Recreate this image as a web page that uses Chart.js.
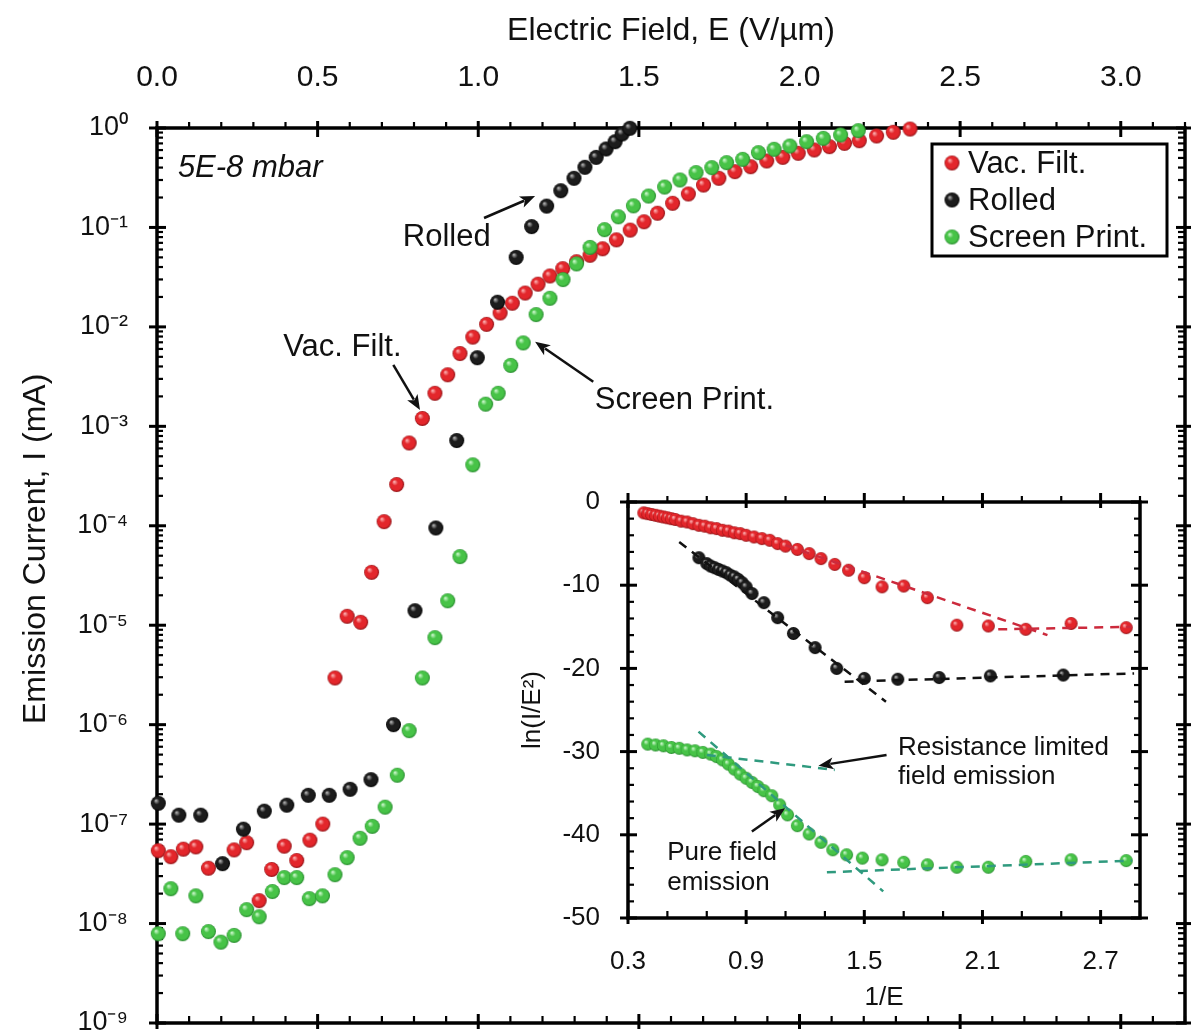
<!DOCTYPE html>
<html>
<head>
<meta charset="utf-8">
<script src="https://cdn.jsdelivr.net/npm/chart.js@4.4.1/dist/chart.umd.min.js"></script>
<style>
  html, body { margin: 0; padding: 0; background: #fff; }
  #wrap { position: relative; width: 1191px; height: 1035px; overflow: hidden; }
  #main { position: absolute; left: 0; top: 0; }
  #inset { position: absolute; left: 500px; top: 478px; }
</style>
</head>
<body>
<div id="wrap">
  <canvas id="main" width="1191" height="1035"></canvas>
  <canvas id="inset" width="680" height="540"></canvas>
</div>
<script>
// main plot: emission current (mA) vs electric field (V/um)
const vacE = [0.004, 0.043, 0.082, 0.121, 0.160, 0.240, 0.279, 0.318, 0.357, 0.396, 0.435, 0.476, 0.516,
  0.554, 0.592, 0.634, 0.668, 0.707, 0.746, 0.785, 0.826, 0.865, 0.905, 0.943, 0.983, 1.026, 1.068, 1.106,
  1.146, 1.186, 1.223, 1.263, 1.306, 1.348, 1.387, 1.430, 1.473, 1.516, 1.558, 1.605, 1.654, 1.701, 1.749,
  1.799, 1.848, 1.898, 1.948, 1.996, 2.046, 2.093, 2.140, 2.186, 2.240, 2.292, 2.344];
const vacI = [5.4e-8, 4.7e-8, 5.6e-8, 5.9e-8, 3.6e-8, 5.5e-8, 6.5e-8, 1.7e-8, 3.5e-8, 6.0e-8, 4.3e-8, 6.9e-8, 1.0e-7,
  2.95e-6, 1.23e-5, 1.07e-5, 3.4e-5, 1.1e-4, 2.6e-4, 6.8e-4, 1.2e-3, 2.15e-3, 3.3e-3, 5.4e-3, 7.9e-3, 1.06e-2, 1.38e-2, 1.73e-2,
  2.19e-2, 2.69e-2, 3.25e-2, 3.85e-2, 4.52e-2, 5.25e-2, 6.1e-2, 7.5e-2, 9.4e-2, 0.114, 0.139, 0.175, 0.217, 0.267, 0.312,
  0.364, 0.408, 0.466, 0.507, 0.557, 0.601, 0.649, 0.701, 0.745, 0.832, 0.906, 0.977];

const rolledE = [0.004, 0.068, 0.136, 0.204, 0.269, 0.334, 0.404, 0.471, 0.536, 0.601, 0.666, 0.736, 0.803, 0.868,
  0.933, 0.997, 1.060, 1.118, 1.166, 1.213, 1.257, 1.298, 1.332, 1.367, 1.398, 1.426, 1.448, 1.472];
const rolledI = [1.62e-7, 1.23e-7, 1.23e-7, 4.0e-8, 8.9e-8, 1.35e-7, 1.55e-7, 1.95e-7, 1.95e-7, 2.24e-7, 2.8e-7, 1.0e-6, 1.4e-5, 9.5e-5,
  7.2e-4, 4.9e-3, 1.77e-2, 5.0e-2, 0.102, 0.164, 0.234, 0.312, 0.403, 0.507, 0.615, 0.728, 0.871, 0.993];

const screenE = [0.004, 0.043, 0.080, 0.121, 0.160, 0.199, 0.240, 0.279, 0.318, 0.359, 0.396, 0.435, 0.474, 0.515,
  0.554, 0.592, 0.632, 0.670, 0.710, 0.748, 0.785, 0.826, 0.865, 0.905, 0.943, 0.983, 1.023, 1.062, 1.101, 1.140,
  1.180, 1.223, 1.264, 1.306, 1.348, 1.393, 1.436, 1.483, 1.530, 1.580, 1.628, 1.678, 1.727, 1.773, 1.823, 1.872,
  1.921, 1.970, 2.022, 2.074, 2.128, 2.183];
const screenI = [7.9e-9, 2.24e-8, 7.9e-9, 1.9e-8, 8.3e-9, 6.5e-9, 7.6e-9, 1.38e-8, 1.17e-8, 2.1e-8, 2.9e-8, 2.9e-8, 1.78e-8, 1.9e-8,
  3.1e-8, 4.6e-8, 7.2e-8, 9.5e-8, 1.48e-7, 3.1e-7, 8.7e-7, 2.95e-6, 7.5e-6, 1.76e-5, 4.9e-5, 4.1e-4, 1.67e-3, 2.15e-3, 4.1e-3, 6.9e-3,
  1.33e-2, 1.94e-2, 2.99e-2, 4.3e-2, 6.3e-2, 9.5e-2, 0.128, 0.165, 0.207, 0.255, 0.300, 0.356, 0.399, 0.448, 0.484, 0.565,
  0.611, 0.659, 0.728, 0.787, 0.851, 0.940];

// inset: ln(I/E^2) vs 1/E
const inVacX = [0.38, 0.40, 0.42, 0.44, 0.46, 0.48, 0.50, 0.52, 0.54, 0.57, 0.60, 0.63, 0.66, 0.69, 0.72, 0.75, 0.78, 0.81,
  0.84, 0.87, 0.90, 0.94, 0.98, 1.02, 1.06, 1.10, 1.16, 1.22, 1.28, 1.35, 1.42, 1.50, 1.59, 1.70, 1.82, 1.97, 2.13, 2.32, 2.55, 2.83];
const inVacY = [-1.3, -1.4, -1.5, -1.6, -1.7, -1.8, -1.9, -2.0, -2.1, -2.3, -2.4, -2.6, -2.8, -2.9, -3.1, -3.2, -3.4, -3.5,
  -3.7, -3.8, -4.0, -4.2, -4.4, -4.6, -5.0, -5.3, -5.7, -6.2, -6.8, -7.5, -8.2, -9.1, -10.2, -10.1, -11.5, -14.8, -14.9, -15.3, -14.6, -15.1];

const inRolledX = [0.66, 0.70, 0.72, 0.74, 0.76, 0.78, 0.80, 0.82, 0.84, 0.86, 0.88, 0.90, 0.93, 0.99, 1.06, 1.14, 1.25,
  1.36, 1.50, 1.67, 1.88, 2.14, 2.51];
const inRolledY = [-6.7, -7.4, -7.7, -7.9, -8.1, -8.3, -8.5, -8.8, -9.0, -9.3, -9.7, -10.2, -11.0, -12.1, -13.9, -15.8, -17.5,
  -20.0, -21.2, -21.3, -21.1, -20.9, -20.8];

const inScreenX = [0.40, 0.44, 0.48, 0.52, 0.56, 0.60, 0.64, 0.68, 0.72, 0.75, 0.78, 0.81, 0.84, 0.87, 0.90, 0.93, 0.96,
  0.99, 1.03, 1.07, 1.11, 1.16, 1.22, 1.28, 1.34, 1.41, 1.49, 1.59, 1.70, 1.82, 1.97, 2.13, 2.32, 2.55, 2.83];
const inScreenY = [-29.1, -29.2, -29.3, -29.5, -29.6, -29.8, -29.9, -30.1, -30.3, -30.6, -31.0, -31.5, -32.1, -32.7, -33.2, -33.7, -34.2,
  -34.7, -35.3, -36.4, -37.6, -38.9, -39.9, -40.9, -41.8, -42.4, -42.8, -43.0, -43.3, -43.6, -43.9, -43.9, -43.2, -43.0, -43.1];

// dashed fit lines in the inset (end points)
const fitVacX1 = [1.10, 2.43], fitVacY1 = [-5.2, -16.0];
const fitVacX2 = [2.18, 2.86], fitVacY2 = [-15.3, -15.0];
const fitRolledX1 = [0.56, 1.61], fitRolledY1 = [-4.8, -24.0];
const fitRolledX2 = [1.40, 2.87], fitRolledY2 = [-21.6, -20.6];
const fitResX = [0.70, 1.35], fitResY = [-30.4, -32.2];
const fitPureX = [0.658, 1.596], fitPureY = [-27.6, -46.8];
const fitFlatX = [1.31, 2.86], fitFlatY = [-44.5, -43.1];

const xTickLabels = ['0.0', '0.5', '1.0', '1.5', '2.0', '2.5', '3.0'];
const insetXTickLabels = ['0.3', '0.9', '1.5', '2.1', '2.7'];

const FONT = "'Liberation Sans', Arial, sans-serif";
Chart.defaults.font.family = FONT;
Chart.defaults.color = '#111';

const pts = (xs, ys) => xs.map((x, i) => ({x: x, y: ys[i]}));
const sup = s => String(s).split('').map(ch => ch === '-' ? '\u207B' : '\u2070\u00B9\u00B2\u00B3\u2074\u2075\u2076\u2077\u2078\u2079'['0123456789'.indexOf(ch)]).join('');

function ball(color, dark, light, r) {
  const s = Math.ceil(r * 2 + 2);
  const c = document.createElement('canvas');
  c.width = c.height = s;
  const g = c.getContext('2d');
  const m = s / 2;
  const grad = g.createRadialGradient(m - r * 0.35, m - r * 0.4, 0, m, m, r);
  grad.addColorStop(0, light);
  grad.addColorStop(0.4, color);
  grad.addColorStop(0.8, color);
  grad.addColorStop(1, dark);
  g.fillStyle = grad;
  g.beginPath();
  g.arc(m, m, r, 0, Math.PI * 2);
  g.fill();
  return c;
}

const redBall = ball('#e3262b', '#8a1014', '#ffc4c4', 7.5);
const blackBall = ball('#1c1c1c', '#000000', '#c8c8c8', 7.5);
const greenBall = ball('#47c347', '#23862a', '#e0ffe0', 7.5);
const redBallS = ball('#e3262b', '#8a1014', '#ffc4c4', 6.5);
const blackBallS = ball('#1c1c1c', '#000000', '#c8c8c8', 6.5);
const greenBallS = ball('#47c347', '#23862a', '#e0ffe0', 6.5);

const near = (a, b) => Math.abs(a - b) < 1e-6;
const isHalf = v => near(v * 2, Math.round(v * 2));
const isDecade = v => { const e = Math.log10(v); return near(e, Math.round(e)); };
const isInsetXMajor = v => near((v - 0.3) / 0.6, Math.round((v - 0.3) / 0.6));
const isTen = v => near(v / 10, Math.round(v / 10));

function stepTicks(from, to, step) {
  return s => {
    const t = [];
    for (let k = 0; from + k * step <= to + 1e-9; k++) t.push({value: +(from + k * step).toFixed(4)});
    s.ticks = t;
  };
}
function logTicks(s) {
  const t = [];
  for (let e = -9; e <= 0; e++) {
    for (let m = 1; m <= 9; m++) {
      const v = +(m * Math.pow(10, e)).toPrecision(6);
      if (v <= 1) t.push({value: v});
    }
  }
  s.ticks = t;
}
// fixed axis box sizes, no extra label overhang padding
function fixSize(w, h) {
  return s => {
    if (w !== null) s.width = w;
    if (h !== null) s.height = h;
    s.paddingTop = s.paddingBottom = s.paddingLeft = s.paddingRight = 0;
  };
}

function framePlugin(sides) {
  return {
    id: 'frame',
    beforeDatasetsDraw(chart) {
      const ctx = chart.ctx, a = chart.chartArea;
      ctx.save();
      ctx.strokeStyle = '#000';
      ctx.lineCap = 'butt';
      sides.forEach(sd => {
        const scale = chart.scales[sd.id];
        const horiz = sd.edge === 'top' || sd.edge === 'bottom';
        const base = a[sd.edge];
        const inward = (sd.edge === 'top' || sd.edge === 'left') ? 1 : -1;
        scale.ticks.forEach(t => {
          const major = sd.major(t.value);
          const p = scale.getPixelForValue(t.value);
          const tin = major ? sd.majIn : sd.minIn;
          const tout = major ? sd.majOut : sd.minOut;
          ctx.lineWidth = major ? 3 : 2.2;
          ctx.beginPath();
          if (horiz) {
            ctx.moveTo(p, base - inward * tout);
            ctx.lineTo(p, base + inward * tin);
          } else {
            ctx.moveTo(base - inward * tout, p);
            ctx.lineTo(base + inward * tin, p);
          }
          ctx.stroke();
        });
      });
      ctx.lineWidth = 3.5;
      ctx.strokeRect(a.left, a.top, a.right - a.left, a.bottom - a.top);
      ctx.restore();
    }
  };
}

function arrow(ctx, x1, y1, x2, y2) {
  const ang = Math.atan2(y2 - y1, x2 - x1);
  const hl = 15, hw = 6;
  ctx.beginPath();
  ctx.moveTo(x1, y1);
  ctx.lineTo(x2 - Math.cos(ang) * hl * 0.8, y2 - Math.sin(ang) * hl * 0.8);
  ctx.stroke();
  ctx.beginPath();
  ctx.moveTo(x2, y2);
  ctx.lineTo(x2 - Math.cos(ang) * hl - Math.sin(ang) * hw, y2 - Math.sin(ang) * hl + Math.cos(ang) * hw);
  ctx.lineTo(x2 - Math.cos(ang) * hl * 0.75, y2 - Math.sin(ang) * hl * 0.75);
  ctx.lineTo(x2 - Math.cos(ang) * hl + Math.sin(ang) * hw, y2 - Math.sin(ang) * hl - Math.cos(ang) * hw);
  ctx.closePath();
  ctx.fill();
}

// annotation positions in data units
const mainNotes = [
  {text: '5E-8 mbar', x: 0.065, y: 0.396, align: 'left', italic: true},
  {text: 'Rolled', x: 0.902, y: 0.0801, align: 'center'},
  {text: 'Vac. Filt.', x: 0.577, y: 6.28e-3, align: 'center'},
  {text: 'Screen Print.', x: 1.363, y: 1.84e-3, align: 'left'}
];
const mainArrows = [
  {from: [1.018, 0.1244], to: [1.177, 0.207]},
  {from: [0.7356, 4.14e-3], to: [0.8187, 1.46e-3]},
  {from: [1.358, 2.81e-3], to: [1.177, 7.1e-3]}
];
const insetNotes = [
  {text: 'Resistance limited', x: 1.671, y: -29.6},
  {text: 'field emission', x: 1.671, y: -33.05},
  {text: 'Pure field', x: 0.499, y: -42.2},
  {text: 'emission', x: 0.499, y: -45.8}
];
const insetArrows = [
  {from: [1.613, -30.4], to: [1.267, -31.7]},
  {from: [0.929, -39.6], to: [1.098, -36.8]}
];

const mainNotesPlugin = {
  id: 'mainNotes',
  afterDraw(chart) {
    const {ctx, chartArea: a} = chart;
    const sx = chart.scales.x, sy = chart.scales.y;
    ctx.save();
    ctx.fillStyle = '#111';
    ctx.strokeStyle = '#111';
    ctx.textBaseline = 'middle';
    mainNotes.forEach(n => {
      ctx.font = (n.italic ? 'italic ' : '') + '31px ' + FONT;
      ctx.textAlign = n.align;
      ctx.fillText(n.text, sx.getPixelForValue(n.x), sy.getPixelForValue(n.y));
    });
    ctx.lineWidth = 2.5;
    mainArrows.forEach(r => arrow(ctx, sx.getPixelForValue(r.from[0]), sy.getPixelForValue(r.from[1]),
      sx.getPixelForValue(r.to[0]), sy.getPixelForValue(r.to[1])));

    // legend box
    const lx = a.right - 253, ly = a.top + 16;
    ctx.fillStyle = '#fff';
    ctx.fillRect(lx, ly, 235, 112);
    ctx.lineWidth = 3;
    ctx.strokeStyle = '#000';
    ctx.strokeRect(lx, ly, 235, 112);
    ctx.font = '31px ' + FONT;
    ctx.textAlign = 'left';
    ctx.fillStyle = '#111';
    chart.data.datasets.forEach((d, i) => {
      const yy = ly + 19 + i * 37;
      ctx.drawImage(d.pointStyle, lx + 20 - d.pointStyle.width / 2, yy - d.pointStyle.height / 2);
      ctx.fillText(d.label, lx + 36, yy + 1);
    });
    ctx.restore();
  }
};

const insetNotesPlugin = {
  id: 'insetNotes',
  afterDraw(chart) {
    const ctx = chart.ctx;
    const sx = chart.scales.ix, sy = chart.scales.iy;
    ctx.save();
    ctx.fillStyle = '#111';
    ctx.strokeStyle = '#111';
    ctx.textBaseline = 'middle';
    ctx.textAlign = 'left';
    ctx.font = '26px ' + FONT;
    insetNotes.forEach(n => ctx.fillText(n.text, sx.getPixelForValue(n.x), sy.getPixelForValue(n.y)));
    ctx.lineWidth = 2.5;
    insetArrows.forEach(r => arrow(ctx, sx.getPixelForValue(r.from[0]), sy.getPixelForValue(r.from[1]),
      sx.getPixelForValue(r.to[0]), sy.getPixelForValue(r.to[1])));
    ctx.restore();
  }
};

new Chart(document.getElementById('main'), {
  type: 'scatter',
  data: {
    datasets: [
      {label: 'Vac. Filt.', data: pts(vacE, vacI), pointStyle: redBall, order: 2, clip: false},
      {label: 'Rolled', data: pts(rolledE, rolledI), pointStyle: blackBall, order: 1, clip: false},
      {label: 'Screen Print.', data: pts(screenE, screenI), pointStyle: greenBall, order: 0, clip: false}
    ]
  },
  options: {
    responsive: false,
    animation: false,
    devicePixelRatio: 1,
    layout: {padding: 0},
    plugins: {legend: {display: false}, tooltip: {enabled: false}},
    scales: {
      x: {
        type: 'linear', position: 'top', min: 0, max: 3.2,
        grid: {display: false, drawTicks: false}, border: {display: false},
        afterBuildTicks: stepTicks(0, 3.2, 0.1),
        afterFit: fixSize(null, 128),
        ticks: {
          autoSkip: false, maxRotation: 0, padding: 32, font: {size: 30}, color: '#111',
          callback: v => (isHalf(v) && v <= 3.0 + 1e-9) ? xTickLabels[Math.round(v * 2)] : ''
        },
        title: {display: true, text: 'Electric Field, E (V/\u00B5m)', font: {size: 32}, color: '#111', padding: {top: 12, bottom: 0}}
      },
      xb: {
        type: 'linear', position: 'bottom', min: 0, max: 3.2,
        grid: {display: false, drawTicks: false}, border: {display: false},
        afterBuildTicks: stepTicks(0, 3.2, 0.1),
        afterFit: fixSize(null, 12),
        ticks: {display: false}
      },
      y: {
        type: 'logarithmic', position: 'left', min: 1e-9, max: 1,
        grid: {display: false, drawTicks: false}, border: {display: false},
        afterBuildTicks: logTicks,
        afterFit: fixSize(157, null),
        ticks: {
          autoSkip: false, padding: 29, font: {size: 27}, color: '#111',
          callback: v => isDecade(v) ? '10' + sup(Math.round(Math.log10(v))) : ''
        },
        title: {display: true, text: '      Emission Current, I (mA)', font: {size: 32}, color: '#111', padding: {top: 17, bottom: 0}}
      },
      yr: {
        type: 'logarithmic', position: 'right', min: 1e-9, max: 1,
        grid: {display: false, drawTicks: false}, border: {display: false},
        afterBuildTicks: logTicks,
        afterFit: fixSize(6, null),
        ticks: {display: false}
      }
    }
  },
  plugins: [
    framePlugin([
      {id: 'x', edge: 'top', major: isHalf, majIn: 9, majOut: 7, minIn: 0, minOut: 6},
      {id: 'xb', edge: 'bottom', major: isHalf, majIn: 9, majOut: 6, minIn: 7, minOut: 0},
      {id: 'y', edge: 'left', major: isDecade, majIn: 9, majOut: 8, minIn: 6, minOut: 0},
      {id: 'yr', edge: 'right', major: isDecade, majIn: 9, majOut: 6, minIn: 7, minOut: 0}
    ]),
    mainNotesPlugin
  ]
});

const fitLine = (xs, ys, color) => ({
  type: 'line', data: pts(xs, ys), borderColor: color, borderWidth: 2.5, borderDash: [9, 7],
  pointRadius: 0, fill: false, showLine: true, order: 0, clip: false, xAxisID: 'ix', yAxisID: 'iy'
});
const dots = (xs, ys, img) => ({
  data: pts(xs, ys), pointStyle: img, order: 1, clip: false, xAxisID: 'ix', yAxisID: 'iy'
});

const smallFont = {size: 26};

new Chart(document.getElementById('inset'), {
  type: 'scatter',
  data: {
    datasets: [
      fitLine(fitVacX1, fitVacY1, '#cc2a3c'),
      fitLine(fitVacX2, fitVacY2, '#cc2a3c'),
      fitLine(fitRolledX1, fitRolledY1, '#111111'),
      fitLine(fitRolledX2, fitRolledY2, '#111111'),
      fitLine(fitResX, fitResY, '#2f9a7e'),
      fitLine(fitPureX, fitPureY, '#2f9a7e'),
      fitLine(fitFlatX, fitFlatY, '#2f9a7e'),
      dots(inVacX, inVacY, redBallS),
      dots(inRolledX, inRolledY, blackBallS),
      dots(inScreenX, inScreenY, greenBallS)
    ]
  },
  options: {
    responsive: false,
    animation: false,
    devicePixelRatio: 1,
    layout: {padding: 0},
    plugins: {legend: {display: false}, tooltip: {enabled: false}},
    scales: {
      ix: {
        type: 'linear', position: 'bottom', min: 0.3, max: 2.9,
        grid: {display: false, drawTicks: false}, border: {display: false},
        afterBuildTicks: stepTicks(0.3, 2.9, 0.2),
        afterFit: fixSize(null, 100),
        ticks: {
          autoSkip: false, maxRotation: 0, padding: 28, font: smallFont, color: '#111',
          callback: v => isInsetXMajor(v) ? insetXTickLabels[Math.round((v - 0.3) / 0.6)] : ''
        },
        title: {display: true, text: '1/E', font: smallFont, color: '#111', padding: {top: 0, bottom: 5}}
      },
      ixt: {
        type: 'linear', position: 'top', min: 0.3, max: 2.9,
        grid: {display: false, drawTicks: false}, border: {display: false},
        afterBuildTicks: stepTicks(0.3, 2.9, 0.2),
        afterFit: fixSize(null, 24),
        ticks: {display: false}
      },
      iy: {
        type: 'linear', position: 'left', min: -50, max: 0,
        grid: {display: false, drawTicks: false}, border: {display: false},
        afterBuildTicks: stepTicks(-50, 0, 2),
        afterFit: fixSize(128, null),
        ticks: {
          autoSkip: false, padding: 28, font: smallFont, color: '#111',
          callback: v => isTen(v) ? String(Math.round(v)) : ''
        },
        title: {display: true, text: 'ln(I/E\u00B2)', font: smallFont, color: '#111', padding: {top: 17, bottom: 0}}
      },
      iyr: {
        type: 'linear', position: 'right', min: -50, max: 0,
        grid: {display: false, drawTicks: false}, border: {display: false},
        afterBuildTicks: stepTicks(-50, 0, 2),
        afterFit: fixSize(40, null),
        ticks: {display: false}
      }
    }
  },
  plugins: [
    framePlugin([
      {id: 'ixt', edge: 'top', major: isInsetXMajor, majIn: 6, majOut: 9, minIn: 0, minOut: 6},
      {id: 'ix', edge: 'bottom', major: isInsetXMajor, majIn: 8, majOut: 6, minIn: 7, minOut: 0},
      {id: 'iy', edge: 'left', major: isTen, majIn: 9, majOut: 8, minIn: 6, minOut: 0},
      {id: 'iyr', edge: 'right', major: isTen, majIn: 9, majOut: 8, minIn: 6, minOut: 0}
    ]),
    insetNotesPlugin
  ]
});
</script>
</body>
</html>
